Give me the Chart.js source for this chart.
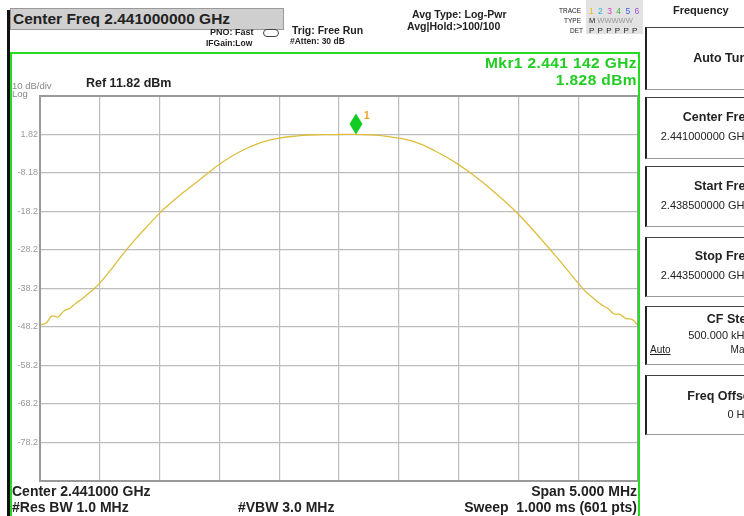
<!DOCTYPE html>
<html>
<head>
<meta charset="utf-8">
<script src="https://cdn.jsdelivr.net/npm/chart.js@4.4.1/dist/chart.umd.min.js"></script>
<style>
  html, body { margin: 0; padding: 0; background: #fff; }
  #wrap { position: relative; width: 744px; height: 516px; overflow: hidden; font-family: "Liberation Sans", Arial, sans-serif; color: #222; }
  #c { position: absolute; left: 0; top: 0; }
  .t { position: absolute; white-space: nowrap; line-height: 1; }
  .b { font-weight: bold; }
  .btn { position: absolute; left: 645px; width: 110px; border-left: 2px solid #222; border-top: 1px solid #444; border-bottom: 1px solid #999; background: #fff; }
</style>
</head>
<body>
<div id="wrap">
  <canvas id="c" width="744" height="516"></canvas>

  <!-- frame -->
  <div style="position:absolute;left:7px;top:10px;width:3px;height:506px;background:#111"></div>
  <div style="position:absolute;left:10px;top:52px;width:2px;height:464px;background:#22dd22"></div>
  <div style="position:absolute;left:10px;top:52px;width:630px;height:2px;background:#22dd22"></div>
  <div style="position:absolute;left:638px;top:52px;width:2px;height:464px;background:#22dd22"></div>

  <!-- header -->
  <div class="t b" style="left:10px;top:8px;width:270px;height:18px;padding:2px 0 0 2px;background:#cfcfcf;border:1px solid #999;font-size:15.5px;">Center Freq 2.441000000 GHz</div>
  <div class="t b" style="left:210px;top:28px;font-size:9px;">PNO: Fast</div>
  <div class="t b" style="left:206px;top:39px;font-size:8.5px;">IFGain:Low</div>
  <div style="position:absolute;left:263px;top:29px;width:14px;height:6px;border:1px solid #444;border-radius:4px;"></div>
  <div class="t b" style="left:292px;top:25px;font-size:10.5px;">Trig: Free Run</div>
  <div class="t b" style="left:290px;top:37px;font-size:8.5px;">#Atten: 30 dB</div>
  <div class="t b" style="left:412px;top:9px;font-size:10.5px;">Avg Type: Log-Pwr</div>
  <div class="t b" style="left:407px;top:21px;font-size:10.5px;">Avg|Hold:&gt;100/100</div>
  <div style="position:absolute;left:586px;top:0px;width:57px;height:34px;background:#e2e2e2"></div>
  <div class="t" style="left:559px;top:8px;font-size:6.5px;">TRACE</div>
  <div class="t" style="left:589px;top:7px;font-size:8.5px;letter-spacing:1px;"><span style="color:#e0c020">1</span> <span style="color:#30b0e0">2</span> <span style="color:#d040c0">3</span> <span style="color:#40b040">4</span> <span style="color:#4060e0">5</span> <span style="color:#a050d0">6</span></div>
  <div class="t" style="left:564px;top:18px;font-size:6.5px;">TYPE</div>
  <div class="t" style="left:589px;top:17px;font-size:7.5px;">M <span style="color:#999">WWWWW</span></div>
  <div class="t" style="left:570px;top:28px;font-size:6.5px;">DET</div>
  <div class="t" style="left:589px;top:27px;font-size:8px;letter-spacing:0.6px;">P P P P P P</div>

  <!-- plot labels -->
  <div class="t" style="left:12px;top:81px;font-size:9.5px;color:#888;">10 dB/div</div>
  <div class="t" style="left:12px;top:89px;font-size:9.5px;color:#888;">Log</div>
  <div class="t b" style="left:86px;top:77px;font-size:12.5px;">Ref 11.82 dBm</div>
  <div class="t b" style="right:107px;top:55px;font-size:15.5px;letter-spacing:0.4px;color:#22cc22;">Mkr1 2.441 142 GHz</div>
  <div class="t b" style="right:107px;top:72px;font-size:15.5px;letter-spacing:0.4px;color:#22cc22;">1.828 dBm</div>

  <!-- footer -->
  <div class="t b" style="left:12px;top:484px;font-size:14px;">Center 2.441000 GHz</div>
  <div class="t b" style="left:12px;top:500px;font-size:14px;">#Res BW 1.0 MHz</div>
  <div class="t b" style="left:238px;top:500px;font-size:14px;">#VBW 3.0 MHz</div>
  <div class="t b" style="right:107px;top:484px;font-size:14px;">Span 5.000 MHz</div>
  <div class="t b" style="right:107px;top:500px;font-size:14px;">Sweep&nbsp;&nbsp;1.000 ms (601 pts)</div>

  <!-- soft keys -->
  <div class="t b" style="left:673px;top:5px;font-size:11px;">Frequency</div>
  <div class="btn" style="top:27px;height:61px;"></div>
  <div class="t b" style="right:-10px;top:52px;font-size:12.5px;">Auto Tune</div>
  <div class="btn" style="top:97px;height:60px;"></div>
  <div class="t b" style="right:-9px;top:111px;font-size:12.5px;">Center Freq</div>
  <div class="t" style="right:-6px;top:131px;font-size:11px;">2.441000000 GHz</div>
  <div class="btn" style="top:166px;height:59px;"></div>
  <div class="t b" style="right:-9px;top:180px;font-size:12.5px;">Start Freq</div>
  <div class="t" style="right:-6px;top:200px;font-size:11px;">2.438500000 GHz</div>
  <div class="btn" style="top:237px;height:58px;"></div>
  <div class="t b" style="right:-9px;top:250px;font-size:12.5px;">Stop Freq</div>
  <div class="t" style="right:-6px;top:270px;font-size:11px;">2.443500000 GHz</div>
  <div class="btn" style="top:306px;height:57px;"></div>
  <div class="t b" style="right:-10px;top:313px;font-size:12.5px;">CF Step</div>
  <div class="t" style="right:-6px;top:330px;font-size:11px;">500.000 kHz</div>
  <div class="t" style="left:650px;top:345px;font-size:10px;text-decoration:underline;">Auto</div>
  <div class="t" style="right:-6px;top:345px;font-size:10px;">Man</div>
  <div class="btn" style="top:375px;height:58px;"></div>
  <div class="t b" style="right:-10px;top:390px;font-size:12.5px;">Freq Offset</div>
  <div class="t" style="right:-6px;top:409px;font-size:11px;">0 Hz</div>
</div>

<script>
// trace (MHz, dBm)
const freqMHz = [
  2438.50, 2438.55, 2438.60, 2438.65, 2438.70, 2438.75, 2438.80, 2438.85, 2438.90, 2438.95,
  2439.00, 2439.10, 2439.20, 2439.30, 2439.40, 2439.50, 2439.60, 2439.70, 2439.80, 2439.90,
  2440.00, 2440.10, 2440.20, 2440.30, 2440.40, 2440.50, 2440.60, 2440.70, 2440.80, 2440.90,
  2441.00, 2441.10, 2441.20, 2441.30, 2441.40, 2441.50, 2441.60, 2441.70, 2441.80, 2441.90,
  2442.00, 2442.10, 2442.20, 2442.30, 2442.40, 2442.50, 2442.60, 2442.70, 2442.80, 2442.90,
  2443.00, 2443.05, 2443.10, 2443.15, 2443.20, 2443.25, 2443.30, 2443.35, 2443.40, 2443.45,
  2443.50
];
const levelDbm = [
  -47.6, -47.2, -45.3, -45.6, -44.0, -43.3, -42.0, -40.9, -39.6, -38.3,
  -36.8, -33.0, -29.0, -25.3, -21.9, -18.6, -15.8, -13.2, -10.8, -8.3,
  -5.9, -3.9, -2.2, -0.8, 0.2, 0.9, 1.3, 1.6, 1.75, 1.8,
  1.82, 1.83, 1.8, 1.65, 1.35, 0.9, 0.2, -0.9, -2.4, -4.1,
  -6.0, -8.2, -10.6, -13.2, -15.9, -18.9, -22.2, -25.7, -29.3, -33.0,
  -36.8, -38.6, -40.0, -41.3, -42.5, -43.4, -44.8, -44.9, -46.0, -46.2,
  -47.8
];

const yTickValues = [11.82, 1.82, -8.18, -18.18, -28.18, -38.18, -48.18, -58.18, -68.18, -78.18, -88.18];
const yTickLabels = ['', '1.82', '-8.18', '-18.2', '-28.2', '-38.2', '-48.2', '-58.2', '-68.2', '-78.2', ''];
const xTickValues = [2438.5, 2439.0, 2439.5, 2440.0, 2440.5, 2441.0, 2441.5, 2442.0, 2442.5, 2443.0, 2443.5];

const marker = { freq: 2441.142, level: 1.828, label: '1' };

const plotFrame = {
  id: 'plotFrame',
  afterDraw(chart) {
    const { ctx, chartArea: a } = chart;
    ctx.save();
    ctx.strokeStyle = '#9a9a9a';
    ctx.lineWidth = 2;
    ctx.strokeRect(a.left, a.top, a.right - a.left, a.bottom - a.top);
    ctx.restore();
  }
};

const markerPlugin = {
  id: 'markerPlugin',
  afterDatasetsDraw(chart) {
    const { ctx, scales } = chart;
    const x = scales.x.getPixelForValue(marker.freq);
    const y = scales.y.getPixelForValue(marker.level);
    ctx.save();
    ctx.fillStyle = '#11cc22';
    ctx.beginPath();
    ctx.moveTo(x, y);
    ctx.lineTo(x - 6.5, y - 10.5);
    ctx.lineTo(x, y - 21);
    ctx.lineTo(x + 6.5, y - 10.5);
    ctx.closePath();
    ctx.fill();
    ctx.fillStyle = '#f0a020';
    ctx.font = 'bold 10px "Liberation Sans", Arial';
    ctx.fillText(marker.label, x + 8, y - 15);
    ctx.restore();
  }
};

new Chart(document.getElementById('c'), {
  type: 'line',
  data: {
    datasets: [{
      data: freqMHz.map((f, i) => ({ x: f, y: levelDbm[i] })),
      borderColor: 'rgb(222,190,60)',
      borderWidth: 1.3,
      pointRadius: 0,
      tension: 0.35,
      fill: false
    }]
  },
  options: {
    responsive: false,
    animation: false,
    devicePixelRatio: 1,
    layout: { padding: { left: 0, top: 96, right: 106, bottom: 35 } },
    plugins: { legend: { display: false }, tooltip: { enabled: false } },
    scales: {
      x: {
        type: 'linear',
        min: 2438.5,
        max: 2443.5,
        afterBuildTicks: s => { s.ticks = xTickValues.map(v => ({ value: v })); },
        afterFit: s => { s.height = 0; },
        ticks: { display: false },
        grid: { color: '#bdbdbd', lineWidth: 1.2, drawTicks: false },
        border: { display: false }
      },
      y: {
        min: -88.18,
        max: 11.82,
        afterBuildTicks: s => { s.ticks = yTickValues.map(v => ({ value: v })); },
        afterFit: s => { s.width = 40; },
        ticks: {
          padding: 2,
          color: '#999',
          font: { family: '"Liberation Sans", Arial', size: 9 },
          callback: (v, i) => yTickLabels[i]
        },
        grid: { color: '#bdbdbd', lineWidth: 1.2, drawTicks: false },
        border: { display: false }
      }
    }
  },
  plugins: [plotFrame, markerPlugin]
});
</script>
</body>
</html>
